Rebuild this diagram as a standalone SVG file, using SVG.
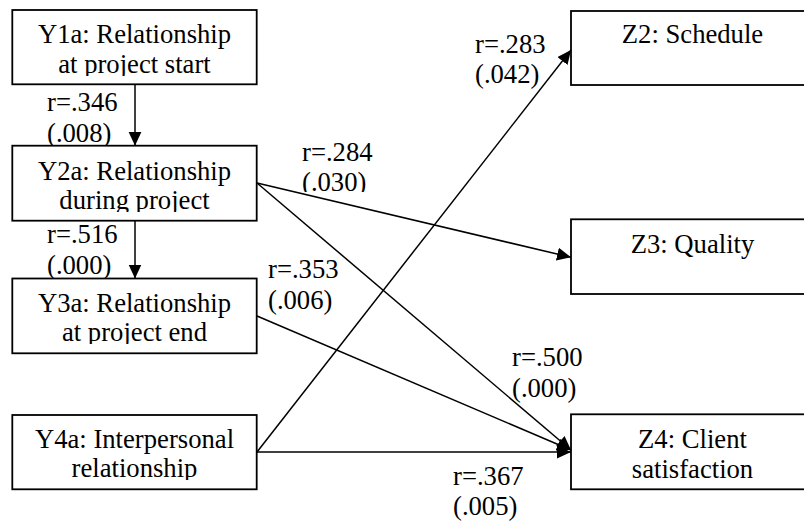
<svg xmlns="http://www.w3.org/2000/svg" width="804" height="522" viewBox="0 0 804 522">
  <style>
    text { font-family: "Liberation Serif", "Times New Roman", serif; font-size: 26.67px; fill: #000; }
    .box { fill: #fff; stroke: #000; stroke-width: 1.8; }
    .mid { text-anchor: middle; }
    .conn { stroke: #000; stroke-width: 1.5; fill: none; marker-end: url(#arrow); }
  </style>
  <defs>
    <marker id="arrow" markerUnits="userSpaceOnUse" markerWidth="15" markerHeight="14" refX="14" refY="6.5" orient="auto">
      <path d="M0,0 L14,6.5 L0,13 Z" fill="#000"/>
    </marker>
    <clipPath id="cY1"><rect x="12" y="10" width="245" height="66"/></clipPath>
    <clipPath id="cY2"><rect x="12" y="146" width="245" height="66"/></clipPath>
    <clipPath id="cY3"><rect x="12" y="278" width="245" height="66"/></clipPath>
    <clipPath id="cY4"><rect x="12" y="415" width="245" height="65"/></clipPath>
    <clipPath id="cL284"><rect x="295" y="130" width="100" height="62"/></clipPath>
  </defs>

  <g id="labels">
    <text x="47" y="111">r=.346</text>
    <text x="47" y="141.7">(.008)</text>
    <text x="47" y="243.3">r=.516</text>
    <text x="47" y="274">(.000)</text>
    <g clip-path="url(#cL284)">
      <text x="302" y="161">r=.284</text>
      <text x="302" y="191">(.030)</text>
    </g>
    <text x="268" y="278">r=.353</text>
    <text x="268" y="309">(.006)</text>
    <text x="475" y="53">r=.283</text>
    <text x="475" y="83">(.042)</text>
    <text x="512" y="366">r=.500</text>
    <text x="512" y="397">(.000)</text>
    <text x="453" y="485">r=.367</text>
    <text x="453" y="515">(.005)</text>
  </g>

  <g id="Y1a">
    <rect class="box" x="12.3" y="10" width="244.4" height="74.3"/>
    <g clip-path="url(#cY1)">
      <text class="mid" x="134.5" y="43.3">Y1a: Relationship</text>
      <text class="mid" x="134.5" y="72.7">at project start</text>
    </g>
  </g>
  <g id="Y2a">
    <rect class="box" x="12.3" y="145.7" width="244.4" height="75"/>
    <g clip-path="url(#cY2)">
      <text class="mid" x="134.5" y="180">Y2a: Relationship</text>
      <text class="mid" x="134.5" y="209.4">during project</text>
    </g>
  </g>
  <g id="Y3a">
    <rect class="box" x="12.3" y="278.5" width="244.4" height="74.8"/>
    <g clip-path="url(#cY3)">
      <text class="mid" x="134.5" y="311.7">Y3a: Relationship</text>
      <text class="mid" x="134.5" y="341">at project end</text>
    </g>
  </g>
  <g id="Y4a">
    <rect class="box" x="12.3" y="415" width="244.4" height="74.3"/>
    <g clip-path="url(#cY4)">
      <text class="mid" x="134.5" y="448.3">Y4a: Interpersonal</text>
      <text class="mid" x="134.5" y="477.3">relationship</text>
    </g>
  </g>
  <g id="Z2">
    <rect class="box" x="571" y="11" width="243" height="74"/>
    <text class="mid" x="692.5" y="43.3">Z2: Schedule</text>
  </g>
  <g id="Z3">
    <rect class="box" x="571" y="219.3" width="243" height="74.7"/>
    <text class="mid" x="692.5" y="253.3">Z3: Quality</text>
  </g>
  <g id="Z4">
    <rect class="box" x="571" y="414.3" width="243" height="75"/>
    <text class="mid" x="692.5" y="448.3">Z4: Client</text>
    <text class="mid" x="692.5" y="478.3">satisfaction</text>
  </g>

  <g id="connectors">
    <line class="conn" x1="135" y1="84.3" x2="135" y2="145.7"/>
    <line class="conn" x1="135" y1="220.7" x2="135" y2="278.5"/>
    <line class="conn" x1="257" y1="183" x2="571" y2="257.3"/>
    <line class="conn" x1="257" y1="183" x2="571" y2="450"/>
    <line class="conn" x1="257" y1="316" x2="571" y2="450"/>
    <line class="conn" x1="257" y1="452" x2="571" y2="452"/>
    <line class="conn" x1="257" y1="452" x2="571" y2="50"/>
  </g>
</svg>
